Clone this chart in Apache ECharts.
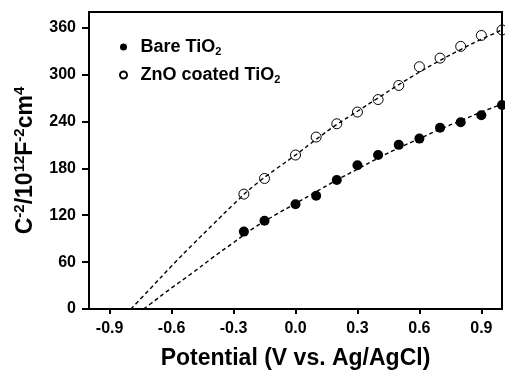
<!DOCTYPE html>
<html>
<head>
<meta charset="utf-8">
<script src="https://cdn.jsdelivr.net/npm/echarts@6/dist/echarts.min.js"></script>
<style>
html,body{margin:0;padding:0;background:#fff;}
#chart{width:505px;height:375px;}
</style>
</head>
<body>
<div id="chart"></div>
<script>
// Measured potentials (V vs. Ag/AgCl)
var potentials = [-0.25, -0.15, 0.0, 0.1, 0.2, 0.3, 0.4, 0.5, 0.6, 0.7, 0.8, 0.9, 1.0];
// C^-2 values (10^12 F^-2 cm^4)
var bareTiO2 = [99, 113, 134, 145, 165, 184, 197, 210, 218, 232, 239, 248, 261];
var znoTiO2  = [147, 167, 197, 220, 237, 252, 268, 286, 310, 321, 336, 350, 357];

// Dashed fit curves
var fitBareV = [-0.736, -0.7, -0.6, -0.5, -0.4, -0.3, -0.2, -0.1, 0.0, 0.1, 0.2, 0.3, 0.4, 0.5, 0.6, 0.7, 0.8, 0.9, 1.0];
var fitBareY = [0, 7, 27, 46, 66, 85, 104, 120, 135, 150, 165, 179, 193, 206, 218, 230, 241, 252, 262];
var fitZnoV  = [-0.797, -0.7, -0.6, -0.5, -0.4, -0.3, -0.2, -0.1, 0.0, 0.1, 0.2, 0.3, 0.4, 0.5, 0.6, 0.7, 0.8, 0.9, 1.0];
var fitZnoY  = [0, 27, 55, 82, 108, 134, 158, 178, 197, 217, 236, 253, 270, 287, 303, 318, 332, 345, 357];

var xTicks = [-0.9, -0.6, -0.3, 0.0, 0.3, 0.6, 0.9];
var yTicks = [0, 60, 120, 180, 240, 300, 360];

function zip(a, b) { return a.map(function (v, i) { return [v, b[i]]; }); }

var FONT = '"Liberation Sans", Arial, Helvetica, sans-serif';
var chart = echarts.init(document.getElementById('chart'), null, {renderer: 'canvas'});
chart.setOption({
  animation: false,
  backgroundColor: '#fff',
  grid: {left: 89, right: 3, top: 12, bottom: 58, show: true, borderColor: '#000', borderWidth: 2, containLabel: false},
  legend: {
    orient: 'vertical', left: 114, top: 32, itemWidth: 24, itemHeight: 7, itemGap: 8,
    data: [
      {name: 'Bare TiO2', icon: 'circle'},
      {name: 'ZnO coated TiO2', icon: 'circle'}
    ],
    formatter: function (n) { return '{m|' + n.slice(0, -1) + '}{s|2}'; },
    textStyle: {
      fontFamily: FONT, fontWeight: 'bold', color: '#000', fontSize: 18,
      rich: {
        m: {fontFamily: FONT, fontWeight: 'bold', fontSize: 18, color: '#000', lineHeight: 20},
        s: {fontFamily: FONT, fontWeight: 'bold', fontSize: 11, color: '#000', verticalAlign: 'bottom', lineHeight: 12, padding: [9, 0, 0, 0]}
      }
    }
  },
  xAxis: {
    type: 'value', min: -1, max: 1,
    name: 'Potential (V vs. Ag/AgCl)', nameLocation: 'middle', nameGap: 38,
    nameTextStyle: {fontFamily: FONT, fontWeight: 'bold', fontSize: 23, color: '#000'},
    axisLine: {show: true, onZero: false, lineStyle: {color: '#000', width: 2}},
    axisTick: {show: true, length: 5, lineStyle: {color: '#000', width: 2}, customValues: xTicks},
    axisLabel: {customValues: xTicks, fontFamily: FONT, fontWeight: 'bold', fontSize: 16, color: '#000', margin: 12,
      formatter: function (v) { return v.toFixed(1); }},
    splitLine: {show: false}
  },
  yAxis: {
    type: 'value', min: 0, max: 380,
    name: '{b|C}{p|-2}{b|/10}{p|12}{b|F}{p|-2}{b|cm}{p|4}', nameLocation: 'middle', nameGap: 49, nameRotate: 90,
    nameTextStyle: {
      fontFamily: FONT, fontWeight: 'bold', fontSize: 23, color: '#000',
      rich: {
        b: {fontFamily: FONT, fontWeight: 'bold', fontSize: 23, color: '#000', lineHeight: 28},
        p: {fontFamily: FONT, fontWeight: 'bold', fontSize: 15, color: '#000', verticalAlign: 'top', lineHeight: 15, padding: [0, 0, 10, 0]}
      }
    },
    axisLine: {show: true, onZero: false, lineStyle: {color: '#000', width: 2}},
    axisTick: {show: true, length: 7, lineStyle: {color: '#000', width: 2}, customValues: yTicks},
    axisLabel: {customValues: yTicks, fontFamily: FONT, fontWeight: 'bold', fontSize: 16, color: '#000', margin: 13},
    splitLine: {show: false}
  },
  series: [
    {name: 'fitBare', type: 'line', data: zip(fitBareV, fitBareY), smooth: true, symbol: 'none', silent: true,
      lineStyle: {color: '#000', width: 1.4, type: [4, 3]}, z: 1},
    {name: 'fitZno', type: 'line', data: zip(fitZnoV, fitZnoY), smooth: true, symbol: 'none', silent: true,
      lineStyle: {color: '#000', width: 1.4, type: [4, 3]}, z: 1},
    {name: 'Bare TiO2', type: 'scatter', data: zip(potentials, bareTiO2), symbol: 'circle', symbolSize: 10, clip: true,
      itemStyle: {color: '#000', borderColor: '#000', borderWidth: 0, opacity: 1}, z: 3},
    {name: 'ZnO coated TiO2', type: 'scatter', data: zip(potentials, znoTiO2), symbol: 'circle', symbolSize: 10, clip: true,
      itemStyle: {color: 'rgba(255,255,255,0)', borderColor: '#000', borderWidth: 1, opacity: 1}, z: 3}
  ]
});
</script>
</body>
</html>
